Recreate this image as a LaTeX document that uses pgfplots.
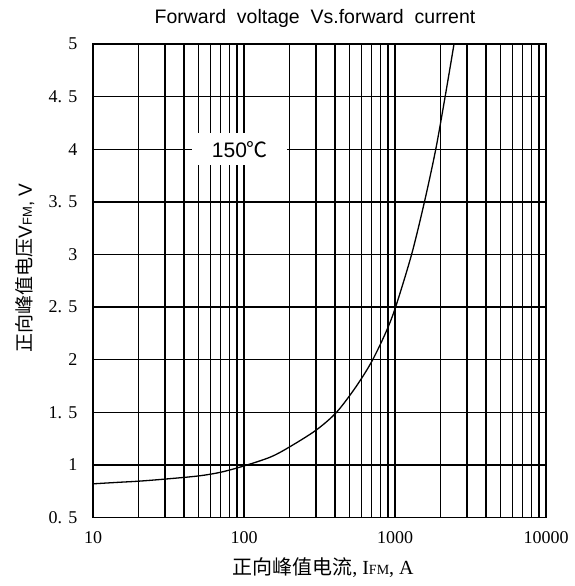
\documentclass[border=0pt]{standalone}
\usepackage{pgfplots}
\pgfplotsset{compat=1.18}
\usepackage{fontspec}
\setmainfont{Liberation Serif}
\newfontfamily\cjk{Noto Sans CJK SC}
\newfontfamily\arial{Liberation Sans}
\begin{document}
\begin{tikzpicture}[x=1pt,y=1pt]
\path[use as bounding box] (0,0) rectangle (575,586);
\begin{axis}[
  at={(93pt,68.5pt)}, anchor=south west,
  scale only axis, width=453pt, height=473.5pt,
  xmode=log, xmin=10, xmax=10000, ymin=0.5, ymax=5,
  xtick={10,100,1000,10000}, xticklabels={10,100,1000,10000},
  minor xtick={20,30,40,50,60,70,80,90,200,300,400,500,600,700,800,900,2000,3000,4000,5000,6000,7000,8000,9000},
  ytick={0.5,1,1.5,2,2.5,3,3.5,4,4.5,5},
  yticklabels={0.\hspace{0.35em}5,1,1.\hspace{0.35em}5,2,2.\hspace{0.35em}5,3,3.\hspace{0.35em}5,4,4.\hspace{0.35em}5,5},
  grid=both,
  major grid style={black, line width=1.4pt},
  minor grid style={black, line width=1.4pt},
  axis line style={black, line width=1.8pt},
  tick style={draw=none},
  ticklabel style={font=\fontsize{18}{18}\selectfont},
  xticklabel style={yshift=-10pt},
  yticklabel style={xshift=-12pt},
]
\addplot[black, line width=1.3pt, smooth, tension=0.5] coordinates {
(10,0.82) (15,0.835) (20,0.845) (30,0.865) (50,0.895) (70,0.93) (100,0.99)
(150,1.075) (200,1.17) (300,1.33) (410,1.5) (550,1.74) (700,1.98) (870,2.26)
(1009,2.5) (1288,3.0) (1567,3.5) (1862,4.0) (2148,4.5) (2460,5.0)
};
\node[fill=white, minimum width=95pt, minimum height=32pt, inner sep=0pt,
      font=\arial\fontsize{21}{21}\selectfont] at (axis cs:94,4) {150{\cjk ℃}};
\end{axis}
\node[anchor=base, font=\arial\fontsize{19.5}{20}\selectfont] at (315,562)
  {Forward\ \ voltage\ \ Vs.forward\ \ current};
\node[anchor=center, font=\fontsize{20}{20}\selectfont] at (323,18)
  {{\cjk 正向峰值电流}, I{\fontsize{14}{14}\selectfont FM}, A};
\node[anchor=center, rotate=90, font=\fontsize{19}{19}\selectfont] at (25,318)
  {{\cjk 正向峰值电压}{\arial V{\fontsize{13}{13}\selectfont FM}, V}};
\end{tikzpicture}
\end{document}
